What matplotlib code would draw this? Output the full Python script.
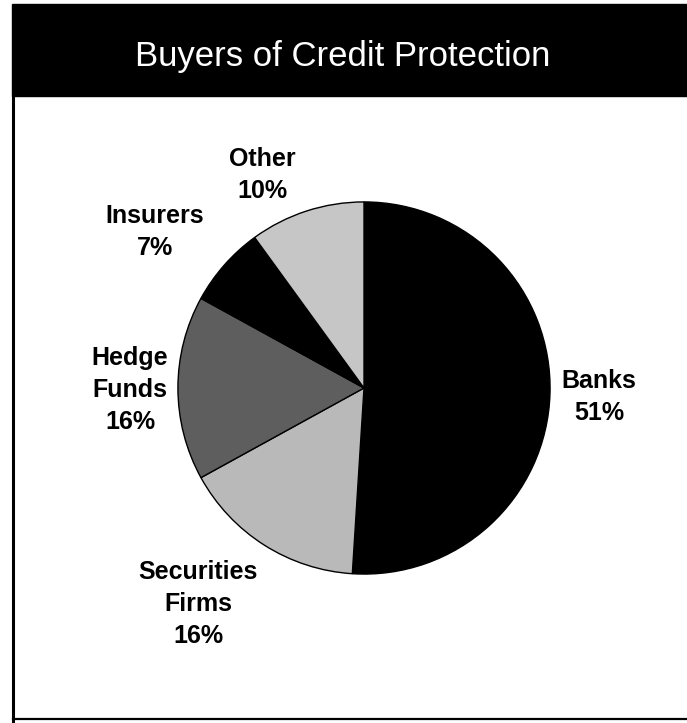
import matplotlib.pyplot as plt
from matplotlib.patches import Rectangle
from matplotlib.lines import Line2D

# Shares of credit protection bought, by buyer type (percent)
names = ['Banks', 'Securities\nFirms', 'Hedge\nFunds', 'Insurers', 'Other']
shares = [51, 16, 16, 7, 10]
colors = ['#000000', '#b9b9b9', '#5e5e5e', '#000000', '#c6c6c6']

W, H = 687, 723
fig = plt.figure(figsize=(W / 100, H / 100), dpi=100)
fig.patch.set_facecolor('white')

def fx(px):
    return px / W

def fy(py):
    return 1 - py / H

# black title band and the box outline
fig.patches.append(Rectangle((fx(12), fy(96)), 1 - fx(12), (96 - 4) / H,
                             transform=fig.transFigure, color='black', zorder=0))
fig.lines.append(Line2D([fx(13), fx(13)], [fy(96), fy(723)], transform=fig.transFigure,
                        color='black', lw=2.2))
fig.lines.append(Line2D([fx(13), 1], [fy(719), fy(719)], transform=fig.transFigure,
                        color='black', lw=1.6))
fig.text(fx(343), fy(66), 'Buyers of Credit Protection', color='white',
         fontsize=25, family='Liberation Sans', ha='center', va='baseline')

# pie: centre (364, 388), radius 187 px
cx, cy, r = 364, 388, 187
ax = fig.add_axes([fx(cx - r), 1 - (cy + r) / H, 2 * r / W, 2 * r / H])
ax.pie(shares, colors=colors, startangle=90, counterclock=False,
       wedgeprops=dict(edgecolor='black', linewidth=1.0))
ax.set_xlim(-1.005, 1.005)
ax.set_ylim(-1.005, 1.005)
ax.axis('off')

# slice labels placed around the pie
label_pos = [(599, 397), (198, 604), (130, 390), (155, 232), (262, 175)]
for name, share, (px, py) in zip(names, shares, label_pos):
    fig.text(fx(px), fy(py), f'{name}\n{share}%', fontsize=18, fontweight='bold',
             family='Liberation Sans', ha='center', va='center', linespacing=1.4)

fig.savefig('out.png', dpi=100)
